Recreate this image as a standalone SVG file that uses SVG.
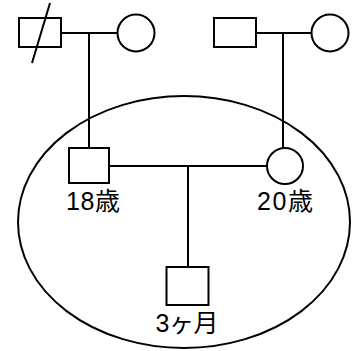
<svg xmlns="http://www.w3.org/2000/svg" width="352" height="351" viewBox="0 0 352 351">
<style>
.s{fill:#fff;stroke:#000;stroke-width:2}
.l{fill:none;stroke:#000;stroke-width:2}
.t{font-family:"Liberation Sans","Noto Sans CJK JP",sans-serif;font-size:25px;fill:#000;text-anchor:middle}
</style>
<rect width="352" height="351" fill="#fff"/>
<g id="connectors">
<ellipse class="l" cx="184" cy="222" rx="166" ry="126"/>
<line class="l" x1="61" y1="33" x2="117" y2="33"/>
<line class="l" x1="89" y1="33" x2="89" y2="148"/>
<line class="l" x1="256" y1="33" x2="311" y2="33"/>
<line class="l" x1="283" y1="33" x2="283" y2="148"/>
<line class="l" x1="109" y1="166" x2="267" y2="166"/>
<line class="l" x1="188" y1="166" x2="188" y2="267"/>
</g>
<g id="gf"><rect class="s" x="19" y="18" width="42" height="29"/><line class="l" x1="50" y1="3" x2="32" y2="63"/></g>
<g id="gm"><circle class="s" cx="136" cy="33" r="18.5"/></g>
<g id="mf"><rect class="s" x="214" y="18" width="42" height="29"/></g>
<g id="mm"><circle class="s" cx="330" cy="33" r="18.5"/></g>
<g id="father"><rect class="s" x="69" y="148" width="40" height="35"/><text class="t" x="93" y="210" textLength="54">18歳</text></g>
<g id="mother"><circle class="s" cx="285" cy="166" r="18"/><text class="t" x="285" y="210" textLength="56">20歳</text></g>
<g id="child"><rect class="s" x="166.5" y="267" width="42" height="38"/><text class="t" x="187" y="332" textLength="63">3ヶ月</text></g>
</svg>
